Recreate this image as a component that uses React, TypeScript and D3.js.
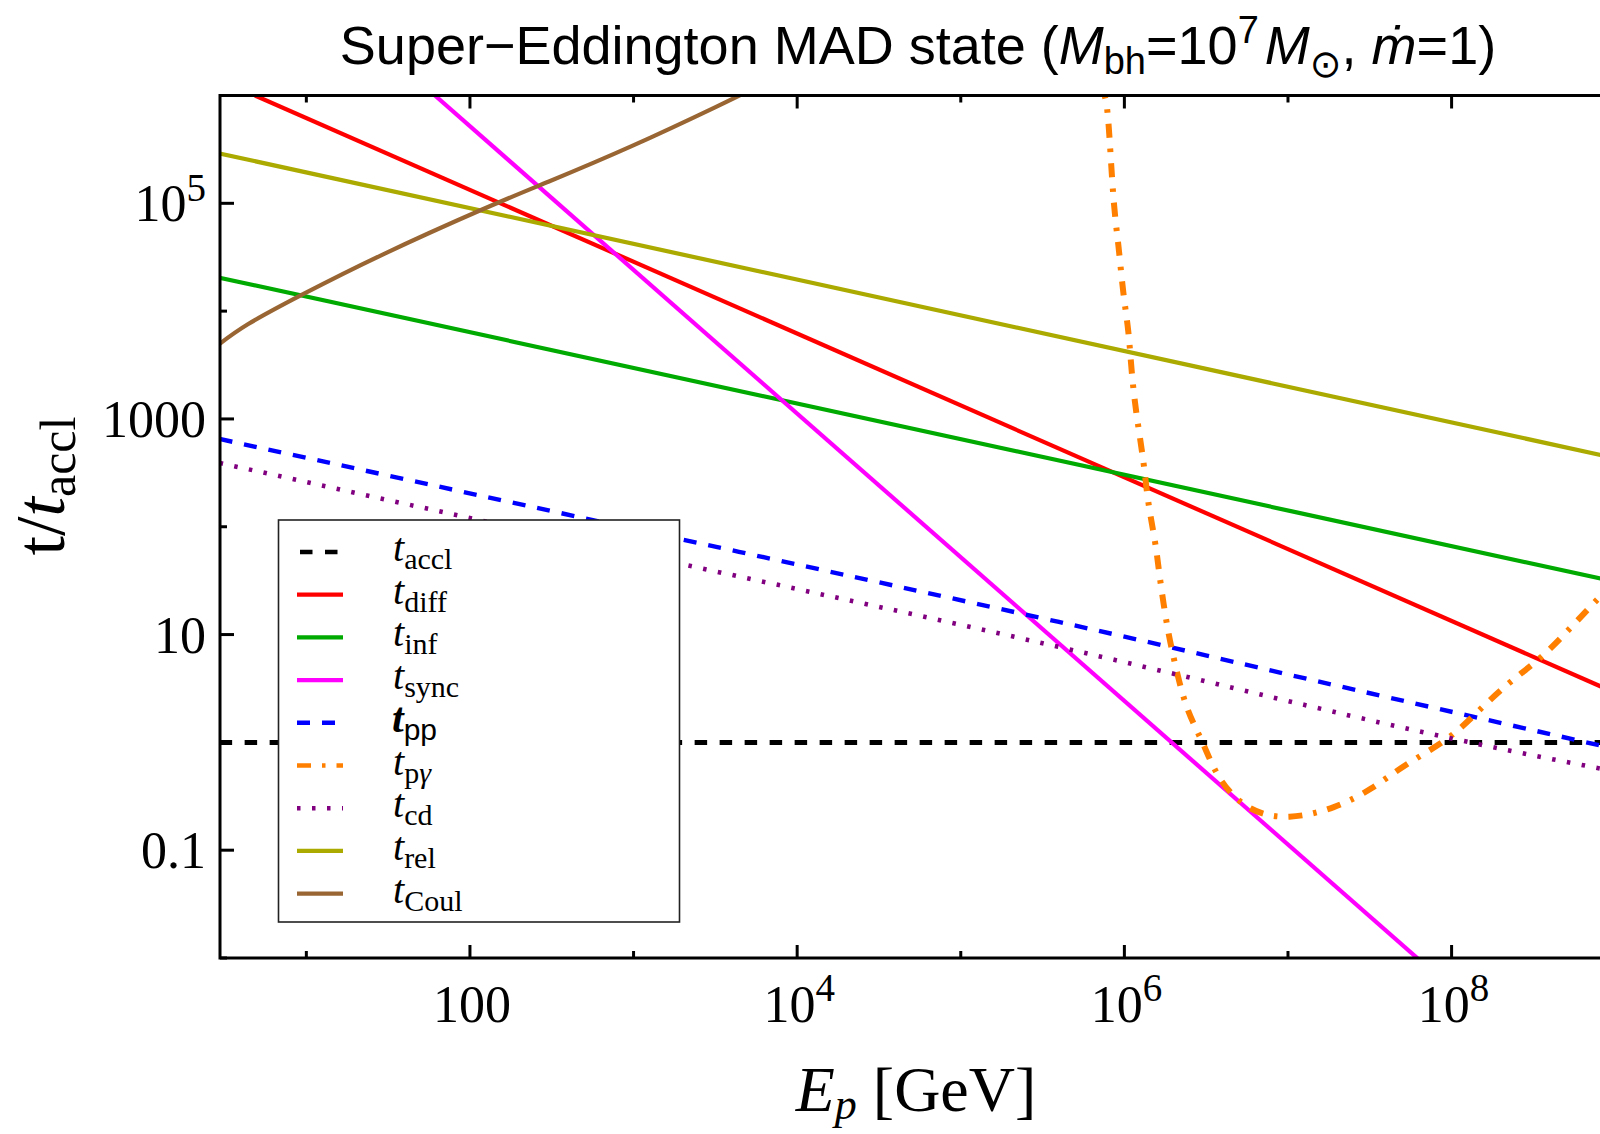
import React from "react";
import * as d3 from "d3";

const W = 1600;
const H = 1134;

// axes
const xDomain: [number, number] = [3, 1e9];
const yDomain: [number, number] = [0.01, 1e6];
const xMajorTicks = [100, 1e4, 1e6, 1e8];
const xMajorLabels = ["100", "10^4", "10^6", "10^8"];
const xMinorTicks = [10, 1e3, 1e5, 1e7, 1e9];
const yMajorTicks = [0.1, 10, 1000, 1e5];
const yMajorLabels = ["0.1", "10", "1000", "10^5"];
const yMinorTicks = [0.01, 1, 100, 1e4, 1e6];

// series, pairs of [log10 E_p (GeV), log10 t/t_accl]
const tAccl = [[0.47, 0], [9.0, 0]];
const tDiff = [[0.686, 6.0], [9.0, 0.46]];
const tInf = [[0.47, 4.31], [9.0, 1.49]];
const tSync = [[1.786, 6.0], [7.797, -2.01]];
const tPP = [[0.47, 2.814], [3.0, 1.98], [5.6, 1.117], [7.0, 0.63], [9.0, -0.06]];
const tPGamma = [
  [5.87, 6.1], [5.881, 5.99], [5.902, 5.758], [5.932, 5.078], [5.963, 4.614], [5.993, 4.181],
  [6.024, 3.81], [6.045, 3.439], [6.075, 3.037], [6.116, 2.604], [6.146, 2.233],
  [6.187, 1.862], [6.215, 1.55], [6.259, 1.105], [6.309, 0.734], [6.381, 0.331],
  [6.48, -0.01], [6.59, -0.349], [6.77, -0.611], [7.01, -0.689], [7.28, -0.6],
  [7.51, -0.426], [7.72, -0.21], [7.96, 0.02], [8.15, 0.27], [8.35, 0.548],
  [8.55, 0.795], [8.75, 1.1], [8.95, 1.42],
];
const tCD = [[0.47, 2.592], [3.0, 1.75], [5.545, 0.904], [7.582, 0.177], [9.0, -0.27]];
const tRel = [[0.47, 5.462], [9.0, 2.636]];
const tCoul = [
  [0.461, 3.686], [0.645, 3.88], [0.971, 4.15], [1.46, 4.52], [2.071, 4.94],
  [2.479, 5.2], [2.988, 5.53], [3.498, 5.89], [3.7, 6.04],
];

type Series = {
  key: string;
  data: number[][];
  color: string;
  width: number;
  dash?: string;
  sub: string;
  curved?: boolean;
};

const series: Series[] = [
  { key: "accl", data: tAccl, color: "#000000", width: 5, dash: "12.5 12.5", sub: "accl" },
  { key: "diff", data: tDiff, color: "#ff0000", width: 4.2, sub: "diff" },
  { key: "inf", data: tInf, color: "#00aa00", width: 4.2, sub: "inf" },
  { key: "sync", data: tSync, color: "#ff00ff", width: 4.2, sub: "sync" },
  { key: "pp", data: tPP, color: "#0000ff", width: 4.4, dash: "13 12", sub: "pp", curved: true },
  { key: "pg", data: tPGamma, color: "#ff8000", width: 6, dash: "14 11 3.5 11", sub: "pγ", curved: true },
  { key: "cd", data: tCD, color: "#800080", width: 4.6, dash: "3.5 11.5", sub: "cd", curved: true },
  { key: "rel", data: tRel, color: "#aaaa00", width: 4.2, sub: "rel" },
  { key: "coul", data: tCoul, color: "#996633", width: 4.2, sub: "Coul", curved: true },
];

const PLOT_LEFT = 220;
const PLOT_TOP = 95.5;
const PLOT_BOTTOM = 958;
const PLOT_RIGHT = 1615.2;

const SERIF = "'Liberation Serif', 'Times New Roman', 'DejaVu Serif', serif";
const SANS = "'Liberation Sans', Arial, 'DejaVu Sans', sans-serif";

function PowLabel({ label, x, y, anchor, size }: { label: string; x: number; y: number; anchor: string; size: number }) {
  const parts = label.split("^");
  return (
    <text x={x} y={y} textAnchor={anchor} fontFamily={SERIF} fontSize={size} fill="#000">
      {parts[0]}
      {parts[1] !== undefined && (
        <tspan dy={-size * 0.4} fontSize={size * 0.75}>
          {parts[1]}
        </tspan>
      )}
    </text>
  );
}

export default function App() {
  const x = d3.scaleLog().domain(xDomain).range([220.8, PLOT_RIGHT]);
  const y = d3.scaleLog().domain(yDomain).range([PLOT_BOTTOM, PLOT_TOP]);

  const makeLine = (curved?: boolean) =>
    d3
      .line<number[]>()
      .x((d) => x(Math.pow(10, d[0])))
      .y((d) => y(Math.pow(10, d[1])))
      .curve(curved ? d3.curveNatural : d3.curveLinear);

  const legendX = 278.5;
  const legendY = 520;
  const legendW = 401;
  const legendH = 402;
  const rowY0 = 552;
  const rowDy = 42.7;

  return (
    <svg width={W} height={H} style={{ display: "block", position: "absolute", left: 0, top: 0 }}>
      <rect x={0} y={0} width={W} height={H} fill="#fff" />
      <defs>
        <clipPath id="plotClip">
          <rect x={PLOT_LEFT} y={PLOT_TOP} width={PLOT_RIGHT - PLOT_LEFT} height={PLOT_BOTTOM - PLOT_TOP} />
        </clipPath>
      </defs>

      {/* title */}
      <text x={918} y={64} textAnchor="middle" fontFamily={SANS} fontSize={54} fill="#000">
        Super−Eddington MAD state (
        <tspan fontStyle="italic">M</tspan>
        <tspan fontSize={38} dy={10}>bh</tspan>
        <tspan dy={-10}>=10</tspan>
        <tspan fontSize={38} dy={-21}>7</tspan>
        <tspan dy={21} fontStyle="italic" dx={6}>M</tspan>
        <tspan fontSize={38} dy={13}>⊙</tspan>
        <tspan dy={-13}>, </tspan>
        <tspan fontStyle="italic">ṁ</tspan>
        <tspan>=1)</tspan>
      </text>

      {/* curves */}
      <g clipPath="url(#plotClip)">
        {series.map((s) => (
          <path
            key={s.key}
            d={makeLine(s.curved)(s.data) || ""}
            fill="none"
            stroke={s.color}
            strokeWidth={s.width}
            strokeDasharray={s.dash}
            strokeLinecap="butt"
          />
        ))}
      </g>

      {/* legend */}
      <rect x={legendX} y={legendY} width={legendW} height={legendH} fill="#fff" stroke="#222" strokeWidth={1.6} />
      {series.map((s, i) => {
        const ry = rowY0 + i * rowDy;
        return (
          <g key={"lg" + s.key}>
            <line
              x1={297}
              x2={343}
              y1={ry}
              y2={ry}
              stroke={s.color}
              strokeWidth={Math.min(s.width, 4.5)}
              strokeDasharray={s.dash}
              strokeDashoffset={s.key === "accl" ? -3 : 0}
            />
            {s.key === "pp" ? (
              <text x={392} y={ry + 9} fontFamily={SERIF} fontSize={42} fontStyle="italic" fontWeight="bold" fill="#000">
                t
                <tspan fontFamily={SANS} fontStyle="normal" fontWeight="normal" fontSize={30} dy={8}>
                  pp
                </tspan>
              </text>
            ) : (
              <text x={393} y={ry + 9} fontFamily={SERIF} fontSize={40} fontStyle="italic" fill="#000">
                t
                {s.key === "pg" ? (
                  <tspan fontStyle="normal" fontSize={30} dy={8}>
                    p<tspan fontStyle="italic">γ</tspan>
                  </tspan>
                ) : (
                  <tspan fontStyle="normal" fontSize={30} dy={8}>
                    {s.sub}
                  </tspan>
                )}
              </text>
            )}
          </g>
        );
      })}

      {/* frame */}
      <rect
        x={PLOT_LEFT}
        y={PLOT_TOP}
        width={PLOT_RIGHT - PLOT_LEFT}
        height={PLOT_BOTTOM - PLOT_TOP}
        fill="none"
        stroke="#000"
        strokeWidth={3}
      />

      {/* x ticks */}
      {xMajorTicks.map((t) => (
        <g key={"xM" + t}>
          <line x1={x(t)} x2={x(t)} y1={PLOT_BOTTOM} y2={PLOT_BOTTOM - 13} stroke="#000" strokeWidth={3} />
          <line x1={x(t)} x2={x(t)} y1={PLOT_TOP} y2={PLOT_TOP + 13} stroke="#000" strokeWidth={3} />
        </g>
      ))}
      {xMinorTicks.map((t) => (
        <g key={"xm" + t}>
          <line x1={x(t)} x2={x(t)} y1={PLOT_BOTTOM} y2={PLOT_BOTTOM - 7} stroke="#000" strokeWidth={3} />
          <line x1={x(t)} x2={x(t)} y1={PLOT_TOP} y2={PLOT_TOP + 7} stroke="#000" strokeWidth={3} />
        </g>
      ))}
      {xMajorLabels.map((lab, i) => (
        <PowLabel key={"xl" + lab} label={lab} x={x(xMajorTicks[i]) + 2} y={1022} anchor="middle" size={52} />
      ))}

      {/* y ticks */}
      {yMajorTicks.map((t) => (
        <line key={"yM" + t} x1={PLOT_LEFT} x2={PLOT_LEFT + 14} y1={y(t)} y2={y(t)} stroke="#000" strokeWidth={3} />
      ))}
      {yMinorTicks.map((t) => (
        <line key={"ym" + t} x1={PLOT_LEFT} x2={PLOT_LEFT + 7} y1={y(t)} y2={y(t)} stroke="#000" strokeWidth={3} />
      ))}
      {yMajorLabels.map((lab, i) => (
        <PowLabel key={"yl" + lab} label={lab} x={206} y={y(yMajorTicks[i]) + 18} anchor="end" size={52} />
      ))}

      {/* axis titles */}
      <text x={916} y={1111} textAnchor="middle" fontFamily={SERIF} fontSize={64} fill="#000">
        <tspan fontStyle="italic">E</tspan>
        <tspan fontStyle="italic" fontSize={44} dy={8}>p</tspan>
        <tspan dy={-8}> [GeV]</tspan>
      </text>
      <text
        transform="translate(64,486) rotate(-90)"
        textAnchor="middle"
        fontFamily={SERIF}
        fontSize={70}
        fill="#000"
      >
        t/<tspan fontStyle="italic">t</tspan>
        <tspan fontSize={50} dy={11}>accl</tspan>
      </text>
    </svg>
  );
}
